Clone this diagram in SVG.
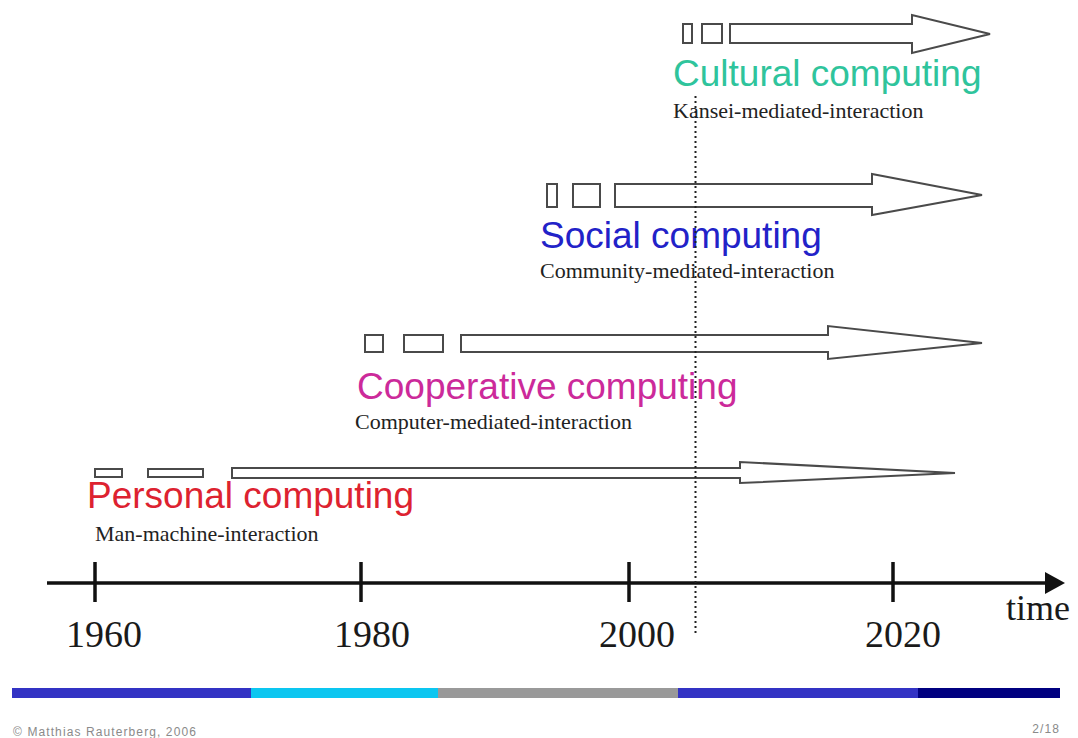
<svg xmlns="http://www.w3.org/2000/svg" width="1078" height="738" viewBox="0 0 1078 738">
  <style>
    .box { fill: #ffffff; stroke: #4a4a4a; stroke-width: 2; }
    .era { font-family: "Liberation Sans", Arial, sans-serif; font-size: 37px; }
    .sub { font-family: "Liberation Serif", "Times New Roman", serif; font-size: 22px; fill: #222222; }
    .year { font-family: "Liberation Serif", "Times New Roman", serif; font-size: 38px; fill: #1a1a1a; text-anchor: middle; }
    .axis { stroke: #111111; stroke-width: 3.5; fill: none; }
    .foot { font-family: "Liberation Sans", Arial, sans-serif; font-size: 12px; fill: #8a8a8a; letter-spacing: 1.1px; }
  </style>
  <rect width="1078" height="738" fill="#ffffff"/>

  <!-- Era: cultural computing -->
  <g id="cultural">
    <rect class="box" x="683" y="24" width="9" height="19"/>
    <rect class="box" x="702" y="24" width="20" height="19"/>
    <polygon class="box" points="730,24 912,24 912,15 990,34 912,53 912,43 730,43"/>
    <text class="era" x="673" y="86" fill="#2fc49c">Cultural computing</text>
    <text class="sub" x="673" y="118">Kansei-mediated-interaction</text>
  </g>

  <!-- Era: social computing -->
  <g id="social">
    <rect class="box" x="547" y="184" width="10" height="23"/>
    <rect class="box" x="573" y="184" width="27" height="23"/>
    <polygon class="box" points="615,184 872,184 872,174 982,195 872,215 872,207 615,207"/>
    <text class="era" x="540" y="248" fill="#2222c8">Social computing</text>
    <text class="sub" x="540" y="278">Community-mediated-interaction</text>
  </g>

  <!-- Era: cooperative computing -->
  <g id="cooperative">
    <rect class="box" x="365" y="335" width="18" height="17"/>
    <rect class="box" x="404" y="335" width="39" height="17"/>
    <polygon class="box" points="461,335 828,335 828,326 982,343 828,359 828,352 461,352"/>
    <text class="era" x="357" y="399" fill="#cc2a9a">Cooperative computing</text>
    <text class="sub" x="355" y="429">Computer-mediated-interaction</text>
  </g>

  <!-- Era: personal computing -->
  <g id="personal">
    <rect class="box" x="95" y="469" width="27" height="8"/>
    <rect class="box" x="148" y="469" width="55" height="8"/>
    <polygon class="box" points="232,468 740,468 740,462 955,473 740,483 740,478 232,478"/>
    <text class="era" x="87" y="508" fill="#dd2230">Personal computing</text>
    <text class="sub" x="95" y="541">Man-machine-interaction</text>
  </g>

  <!-- Time axis with ticks -->
  <g id="timeline">
    <line class="axis" x1="47" y1="583" x2="1048" y2="583"/>
    <polygon points="1045,572 1065,583 1045,594" fill="#111111"/>
    <line class="axis" x1="95" y1="562" x2="95" y2="602"/>
    <line class="axis" x1="361" y1="562" x2="361" y2="602"/>
    <line class="axis" x1="629" y1="562" x2="629" y2="602"/>
    <line class="axis" x1="893" y1="562" x2="893" y2="602"/>
    <text class="year" x="104" y="647">1960</text>
    <text class="year" x="372" y="647">1980</text>
    <text class="year" x="637" y="647">2000</text>
    <text class="year" x="903" y="647">2020</text>
    <text class="year" x="1038" y="620" style="font-size:36px">time</text>
  </g>

  <!-- Present-day marker -->
  <g id="connectors">
    <line x1="695.5" y1="96" x2="695.5" y2="636" stroke="#222222" stroke-width="2" stroke-dasharray="2,3"/>
  </g>

  <!-- Footer bar -->
  <g id="footer">
    <rect x="12" y="688" width="239" height="10" fill="#3333c4"/>
    <rect x="251" y="688" width="187" height="10" fill="#0cc6f0"/>
    <rect x="438" y="688" width="240" height="10" fill="#999999"/>
    <rect x="678" y="688" width="240" height="10" fill="#3333c4"/>
    <rect x="918" y="688" width="142" height="10" fill="#000080"/>
    <text class="foot" x="13" y="736">© Matthias Rauterberg, 2006</text>
    <text class="foot" x="1060" y="733" text-anchor="end">2/18</text>
  </g>
</svg>
